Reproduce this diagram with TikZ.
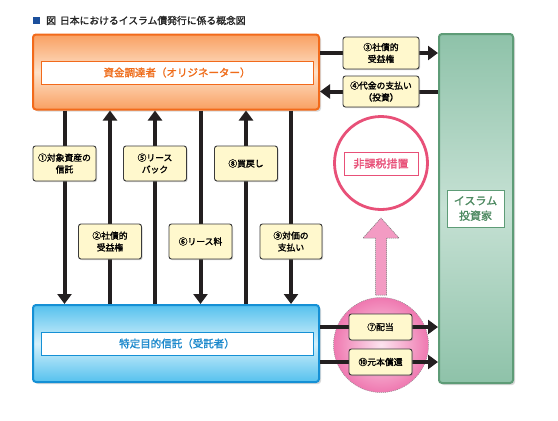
\documentclass[tikz,border=0pt]{standalone}
\usepackage{fontspec}
\newfontfamily\jp{Noto Sans CJK JP}[AutoFakeBold=1.6]
\usetikzlibrary{arrows.meta,shadows,calc}
\definecolor{orgborder}{HTML}{F26A1B}
\definecolor{orgdark}{HTML}{F9A062}
\definecolor{orglight}{HTML}{FDE1C8}
\definecolor{orgtext}{HTML}{EF6C1A}
\definecolor{pttborder}{HTML}{1590D5}
\definecolor{pttdark}{HTML}{55C1EE}
\definecolor{pttlight}{HTML}{D3F0FB}
\definecolor{ptttext}{HTML}{1A88CC}
\definecolor{invborder}{HTML}{5E9C77}
\definecolor{invdark}{HTML}{8EC2A9}
\definecolor{invlight}{HTML}{C6E1D4}
\definecolor{invtext}{HTML}{4E8A62}
\definecolor{pinkc}{HTML}{E85078}
\definecolor{pinkarrow}{HTML}{F39BC3}
\definecolor{glowin}{HTML}{FCE4EF}
\definecolor{glowout}{HTML}{EF78B0}
\definecolor{lblfill}{HTML}{FFF8CD}
\definecolor{lblborder}{HTML}{3A3A3A}
\definecolor{arrowc}{HTML}{231F20}
\definecolor{titleblue}{HTML}{1B4F9C}
\pgfdeclarelayer{back}
\pgfdeclarelayer{arrs}
\pgfsetlayers{back,arrs,main}
\begin{document}
\begin{tikzpicture}[x=1pt,y=-1pt,
  lbl/.style={draw=lblborder, fill=lblfill, rounded corners=2.5pt, line width=0.9pt,
    align=center, inner sep=0pt, font=\jp\bfseries\fontsize{8.8}{11.8}\selectfont, text=black,
    drop shadow={opacity=0.35, shadow xshift=1pt, shadow yshift=-1.2pt}},
  arr/.style={line width=4pt, draw=arrowc, -{Triangle[width=14pt,length=10pt]}},
  mainbox/.style={rounded corners=3pt, line width=2pt,
    drop shadow={opacity=0.3, shadow xshift=2pt, shadow yshift=-2pt}},
  innerbox/.style={fill=white, line width=0.9pt, inner sep=0pt,
    font=\jp\bfseries\fontsize{10.5}{12}\selectfont}
]
\useasboundingbox (0,0) rectangle (558,421);

% title
\node[fill=titleblue, minimum size=7, inner sep=0pt] (sq) at (36.5,20.5) {};
\node[anchor=west, inner sep=0pt, text=black!85, font=\jp\bfseries\fontsize{9.8}{11}\selectfont] (title) at (46,20.5)
  {図\hspace{4pt}日本におけるイスラム債発行に係る概念図};

\begin{pgfonlayer}{back}
\fill[white] (0,0) rectangle (558,421);
% main boxes
\node[mainbox, draw=orgborder, top color=orgdark, bottom color=orgdark, middle color=orglight,
  minimum width=286, minimum height=75] (org) at (176,72) {};
\node[innerbox, draw=orgborder, text=orgtext, minimum width=272, minimum height=23] (orgin) at (177,72.5)
  {資金調達者（オリジネーター）};
\node[mainbox, draw=pttborder, top color=pttdark, bottom color=pttdark, middle color=pttlight,
  minimum width=286, minimum height=77] (ptt) at (176,343.5) {};
\node[innerbox, draw=pttborder, text=ptttext, minimum width=272, minimum height=23] (pttin) at (177,343.5)
  {特定目的信託（受託者）};
\node[mainbox, draw=invborder, top color=invdark, bottom color=invdark, middle color=invlight,
  minimum width=74, minimum height=349] (inv) at (476,208.5) {};
\node[innerbox, draw=invborder, text=invtext, minimum width=57, minimum height=37, align=center,
  font=\jp\bfseries\fontsize{11}{15}\selectfont] (invin) at (475.5,208.5) {イスラム\\投資家};
% glow
\node[circle, minimum size=95, inner sep=0pt, draw=black!45, dash pattern=on 1pt off 1pt, line width=0.5pt,
  inner color=glowin, outer color=glowout] (glow) at (381,345) {};
% non-tax circle
\node[circle, draw=pinkc, line width=2.8pt, fill=white, minimum size=93, inner sep=0pt] (nts) at (381,163) {};
\node[innerbox, draw=pinkc, text=pinkc, minimum width=74, minimum height=23,
  font=\jp\bfseries\fontsize{11}{12}\selectfont] (ntsin) at (381,163.5) {非課税措置};
% pink arrow
\draw[draw=black!55, dash pattern=on 1.2pt off 0.8pt, line width=0.5pt, fill=pinkarrow]
  (375.5,295) -- (375.5,238) -- (363,238) -- (381,218) -- (399,238) -- (386.5,238) -- (386.5,295) -- cycle;
\end{pgfonlayer}

% labels
\node[lbl, minimum width=63, minimum height=35] (l1) at (64.5,163.5) {①対象資産の\\信託};
\node[lbl, minimum width=63, minimum height=35] (l2) at (110,241.5) {②社債的\\受益権};
\node[lbl, minimum width=63, minimum height=35] (l5) at (155,163.5) {⑤リース\\バック};
\node[lbl, minimum width=63, minimum height=35] (l6) at (200.5,241.5) {⑥リース料};
\node[lbl, minimum width=63, minimum height=35] (l8) at (246,163.5) {⑧買戻し};
\node[lbl, minimum width=62, minimum height=35] (l9) at (291,241.5) {⑨対価の\\支払い};
\node[lbl, minimum width=76, minimum height=32] (l3) at (381,53) {③社債的\\受益権};
\node[lbl, minimum width=76, minimum height=31] (l4) at (381,91.5) {④代金の支払い\\（投資）};
\node[lbl, minimum width=63, minimum height=26] (l7) at (380.5,327) {⑦配当};
\node[lbl, minimum width=63, minimum height=26] (l10) at (380.5,362) {⑩元本償還};

\begin{pgfonlayer}{arrs}
\draw[arr] (l1 |- org.south) -- (l1 |- ptt.north);
\draw[arr] (l2 |- ptt.north) -- (l2 |- org.south);
\draw[arr] (l5 |- ptt.north) -- (l5 |- org.south);
\draw[arr] (l6 |- org.south) -- (l6 |- ptt.north);
\draw[arr] (l8 |- ptt.north) -- (l8 |- org.south);
\draw[arr] (l9 |- org.south) -- (l9 |- ptt.north);
\draw[arr] (org.east |- l3) -- (inv.west |- l3);
\draw[arr] (inv.west |- l4) -- (org.east |- l4);
\draw[arr] (ptt.east |- l7) -- (inv.west |- l7);
\draw[arr] (ptt.east |- l10) -- (inv.west |- l10);
\end{pgfonlayer}
\end{tikzpicture}
\end{document}
